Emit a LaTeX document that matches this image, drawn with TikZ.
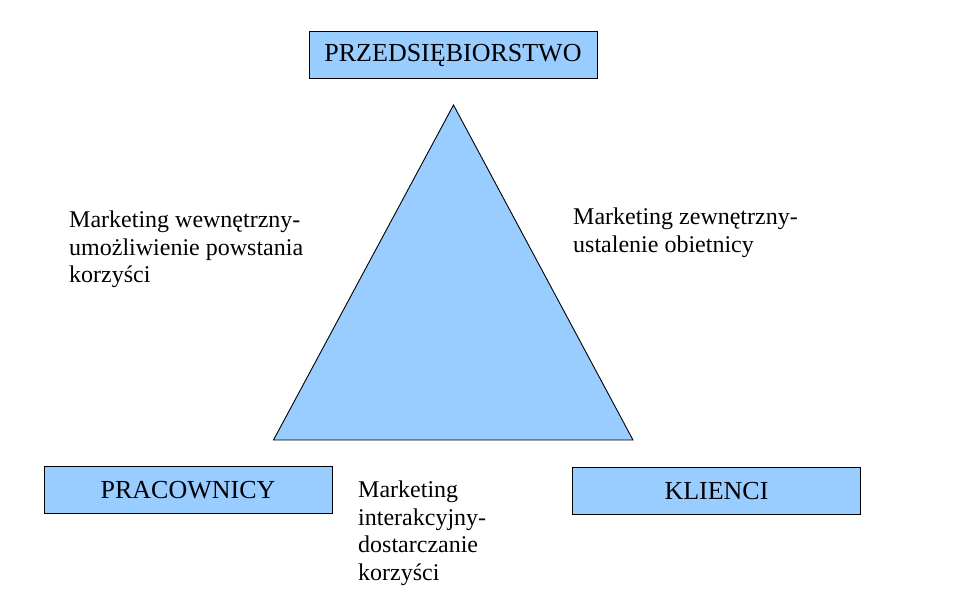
\documentclass[tikz,border=0pt]{standalone}
\usepackage{fontspec}
\setmainfont{Liberation Serif}
\usetikzlibrary{positioning}

\definecolor{jasnyniebieski}{HTML}{99CCFF}

\begin{document}
\begin{tikzpicture}[x=1pt, y=-1pt,
    box/.style={draw, fill=jasnyniebieski, line width=0.9pt, minimum width=288pt, minimum height=47pt, inner sep=0pt, font=\fontsize{26}{30}\selectfont},
    opis/.style={anchor=north west, align=left, inner sep=0pt, font=\fontsize{24}{27.5}\selectfont}]
\useasboundingbox (0,0) rectangle (959,607);

% boxes
\node[box] (firma) at (453,55) {PRZEDSIĘBIORSTWO};
\node[box] (pracownicy) at (188,490) {PRACOWNICY};
\node[box] (klienci) at (716.5,491) {KLIENCI};

% triangle
\coordinate (gora) at (453.5,105);
\coordinate (lewy) at (273.5,440);
\coordinate (prawy) at (633,440);
\draw[fill=jasnyniebieski, line width=0.9pt] (gora) -- (lewy) -- (prawy) -- cycle;

% descriptions
\node[opis] (wewn) at (69,211) {Marketing wewnętrzny-\\umożliwienie powstania\\korzyści};
\node[opis] (zewn) at (573,208) {Marketing zewnętrzny-\\ustalenie obietnicy};
\node[opis] (inter) at (358,481) {Marketing\\interakcyjny-\\dostarczanie\\korzyści};
\end{tikzpicture}
\end{document}
